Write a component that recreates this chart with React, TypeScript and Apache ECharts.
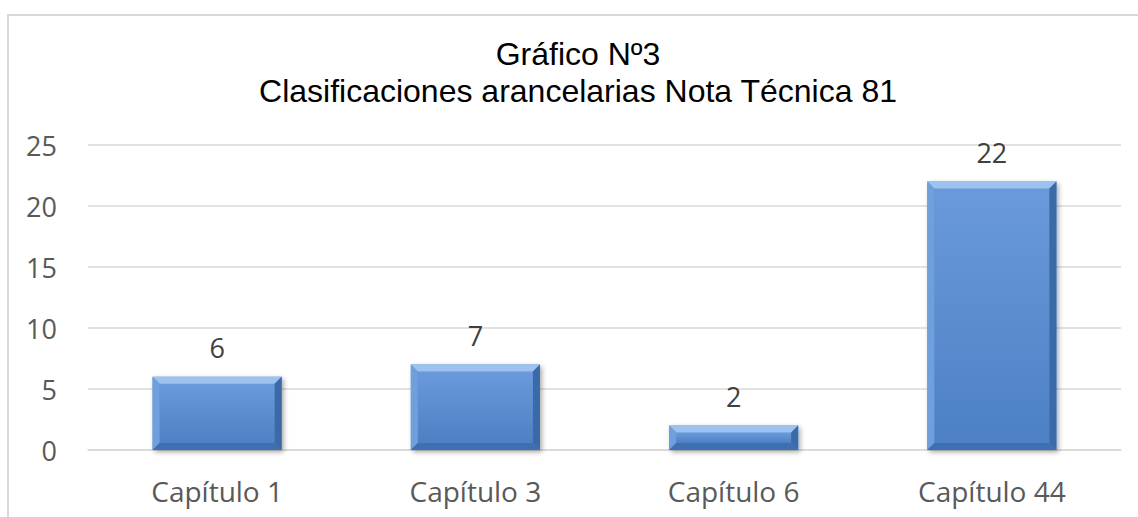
import React, { useEffect, useRef } from "react";
import * as echarts from "echarts";

const categories = ["Capítulo 1", "Capítulo 3", "Capítulo 6", "Capítulo 44"];
const values = [6, 7, 2, 22];
const titleLines = ["Gráfico Nº3", "Clasificaciones arancelarias Nota Técnica 81"];

export default function App() {
  const ref = useRef<HTMLDivElement>(null);
  useEffect(() => {
    document.body.style.margin = "0";
    const chart = echarts.init(ref.current!, null, { renderer: "svg" });
    const labelFont = "'Open Sans', sans-serif";
    const titleFont = "'Liberation Sans', Arial, sans-serif";
    chart.setOption({
      animation: false,
      backgroundColor: "#ffffff",
      graphic: [
        {
          type: "rect",
          shape: { x: 8, y: 15, width: 1200, height: 600 },
          style: { fill: "none", stroke: "#d9d9d9", lineWidth: 2 },
          silent: true,
        },
        ...titleLines.map((t, i) => ({
          type: "text",
          x: 578,
          y: 54 + i * 37,
          silent: true,
          style: {
            text: t,
            align: "center",
            verticalAlign: "middle",
            fontFamily: titleFont,
            fontSize: 32,
            fill: "#000000",
          },
        })),
      ],
      grid: { left: 88, right: 17, top: 145, bottom: 67 },
      xAxis: {
        type: "category",
        data: categories,
        axisLine: { show: true, lineStyle: { color: "#d9d9d9", width: 1.5 } },
        axisTick: { show: false },
        axisLabel: {
          margin: 27,
          fontFamily: labelFont,
          fontSize: 28,
          color: "#595959",
        },
      },
      yAxis: {
        type: "value",
        min: 0,
        max: 25,
        interval: 5,
        axisLine: { show: false },
        axisTick: { show: false },
        splitLine: { lineStyle: { color: "#d9d9d9", width: 1.5 } },
        axisLabel: {
          margin: 31,
          fontFamily: labelFont,
          fontSize: 27,
          color: "#595959",
        },
      },
      series: [
        {
          type: "custom",
          data: values,
          renderItem: (params: any, api: any) => {
            const idx = api.value(0);
            const val = api.value(1);
            const top = api.coord([idx, val]);
            const base = api.coord([idx, 0]);
            const w = api.size([1, 0])[0] * 0.5;
            const x0 = top[0] - w / 2;
            const x1 = top[0] + w / 2;
            const y0 = top[1];
            const y1 = base[1];
            const h = y1 - y0;
            const b = Math.min(7, h / 3);
            return {
              type: "group",
              children: [
                {
                  type: "rect",
                  shape: { x: x0, y: y0, width: w, height: h },
                  style: {
                    fill: "#5a8bcc",
                    shadowColor: "rgba(0,0,0,0.35)",
                    shadowBlur: 5,
                    shadowOffsetX: 2,
                    shadowOffsetY: 2,
                  },
                },
                {
                  type: "rect",
                  shape: { x: x0 + b, y: y0 + b, width: w - 2 * b, height: h - 2 * b },
                  style: {
                    fill: new echarts.graphic.LinearGradient(0, 0, 0, 1, [
                      { offset: 0, color: "#6a9adb" },
                      { offset: 1, color: "#4d80c4" },
                    ]),
                  },
                },
                {
                  type: "polygon",
                  shape: { points: [[x0, y0], [x1, y0], [x1 - b, y0 + b], [x0 + b, y0 + b]] },
                  style: { fill: "#9cc3ef" },
                },
                {
                  type: "polygon",
                  shape: { points: [[x0, y0], [x0 + b, y0 + b], [x0 + b, y1 - b], [x0, y1]] },
                  style: { fill: "#6f9fdc" },
                },
                {
                  type: "polygon",
                  shape: { points: [[x1, y0], [x1, y1], [x1 - b, y1 - b], [x1 - b, y0 + b]] },
                  style: { fill: "#3b6aa8" },
                },
                {
                  type: "polygon",
                  shape: { points: [[x0, y1], [x0 + b, y1 - b], [x1 - b, y1 - b], [x1, y1]] },
                  style: { fill: "#3e6fb0" },
                },
                {
                  type: "text",
                  style: {
                    text: String(val),
                    x: top[0],
                    y: y0 - 29,
                    align: "center",
                    verticalAlign: "middle",
                    fontFamily: labelFont,
                    fontSize: 27,
                    fill: "#404040",
                  },
                },
              ],
            };
          },
          encode: { x: 0, y: 1 },
        },
      ],
    });
    return () => chart.dispose();
  }, []);
  return <div ref={ref} style={{ width: 1138, height: 517 }} />;
}
